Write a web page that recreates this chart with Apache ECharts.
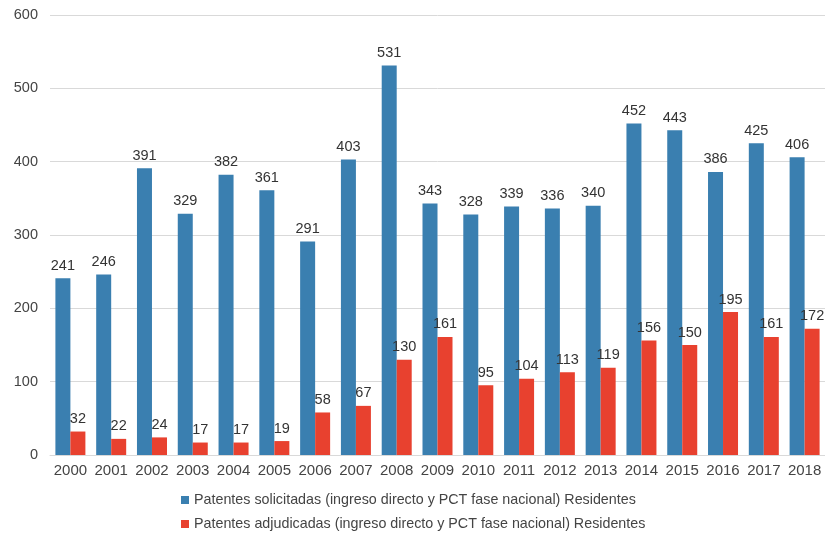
<!DOCTYPE html>
<html><head><meta charset="utf-8">
<script src="https://cdn.jsdelivr.net/npm/echarts@6/dist/echarts.min.js"></script>
<style>html,body{margin:0;padding:0;background:#fff}#c{width:825px;height:536px}</style>
</head><body><div id="c"></div>
<script>
const years = ['2000','2001','2002','2003','2004','2005','2006','2007','2008','2009','2010','2011','2012','2013','2014','2015','2016','2017','2018'];
const solicitadas = [241,246,391,329,382,361,291,403,531,343,328,339,336,340,452,443,386,425,406];
const adjudicadas = [32,22,24,17,17,19,58,67,130,161,95,104,113,119,156,150,195,161,172];
const seriesNames = ['Patentes solicitadas (ingreso directo y PCT fase nacional) Residentes','Patentes adjudicadas (ingreso directo y PCT fase nacional) Residentes'];
const font = "'Liberation Sans', Arial, Helvetica, sans-serif";
const chart = echarts.init(document.getElementById('c'));
const lbl = {show:true, position:'top', distance:5, color:'#333', fontSize:14.5, fontFamily:font};
chart.setOption({
  animation:false,
  textStyle:{fontFamily:font},
  grid:{left:50, top:15, width:779, bottom:81, containLabel:false},
  legend:{orient:'vertical', left:176, top:488, itemWidth:8, itemHeight:8, itemGap:10,
    icon:'rect', textStyle:{fontSize:14.3, color:'#444', fontFamily:font},
    data:seriesNames},
  xAxis:{type:'category', data:years,
    axisLine:{lineStyle:{color:'#d9d9d9', width:1}}, axisTick:{show:false},
    axisLabel:{color:'#444', fontSize:15, margin:8, fontFamily:font, interval:0}},
  yAxis:{type:'value', min:0, max:600, interval:100,
    axisLine:{show:false}, axisTick:{show:false},
    splitLine:{lineStyle:{color:'#d9d9d9', width:1}},
    axisLabel:{color:'#444', fontSize:14.5, margin:12, fontFamily:font}},
  series:[
    {name:seriesNames[0], type:'bar', data:solicitadas, barWidth:15, barGap:'0%',
     itemStyle:{color:'#3a7fb0'}, label:lbl},
    {name:seriesNames[1], type:'bar', data:adjudicadas, barWidth:15, barGap:'0%',
     itemStyle:{color:'#e8412f'}, label:lbl}
  ]
});
</script></body></html>
